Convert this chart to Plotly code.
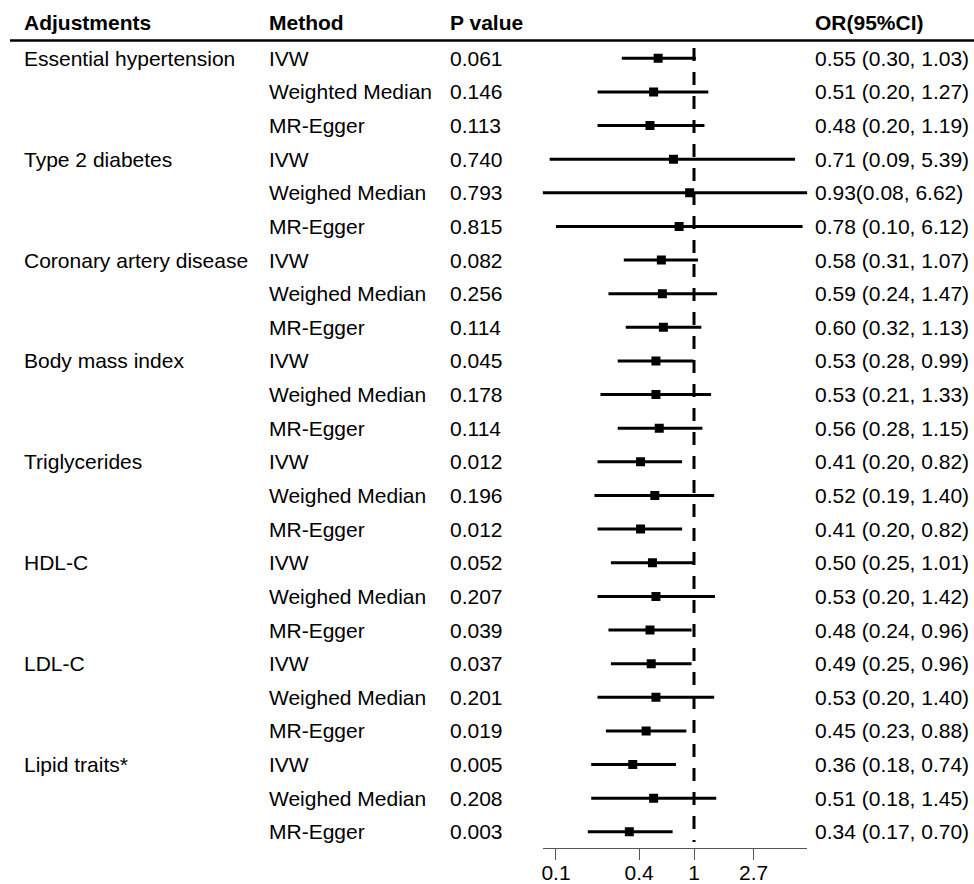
import math
import plotly.graph_objects as go

# ---------------- data ----------------
adjustments = ["Essential hypertension", "", "",
               "Type 2 diabetes", "", "",
               "Coronary artery disease", "", "",
               "Body mass index", "", "",
               "Triglycerides", "", "",
               "HDL-C", "", "",
               "LDL-C", "", "",
               "Lipid traits*", "", ""]
methods = ["IVW", "Weighted Median", "MR-Egger",
           "IVW", "Weighed Median", "MR-Egger",
           "IVW", "Weighed Median", "MR-Egger",
           "IVW", "Weighed Median", "MR-Egger",
           "IVW", "Weighed Median", "MR-Egger",
           "IVW", "Weighed Median", "MR-Egger",
           "IVW", "Weighed Median", "MR-Egger",
           "IVW", "Weighed Median", "MR-Egger"]
p_values = ["0.061", "0.146", "0.113",
            "0.740", "0.793", "0.815",
            "0.082", "0.256", "0.114",
            "0.045", "0.178", "0.114",
            "0.012", "0.196", "0.012",
            "0.052", "0.207", "0.039",
            "0.037", "0.201", "0.019",
            "0.005", "0.208", "0.003"]
or_vals = [0.55, 0.51, 0.48, 0.71, 0.93, 0.78, 0.58, 0.59, 0.60, 0.53, 0.53, 0.56,
           0.41, 0.52, 0.41, 0.50, 0.53, 0.48, 0.49, 0.53, 0.45, 0.36, 0.51, 0.34]
ci_low = [0.30, 0.20, 0.20, 0.09, 0.08, 0.10, 0.31, 0.24, 0.32, 0.28, 0.21, 0.28,
          0.20, 0.19, 0.20, 0.25, 0.20, 0.24, 0.25, 0.20, 0.23, 0.18, 0.18, 0.17]
ci_high = [1.03, 1.27, 1.19, 5.39, 6.62, 6.12, 1.07, 1.47, 1.13, 0.99, 1.33, 1.15,
           0.82, 1.40, 0.82, 1.01, 1.42, 0.96, 0.96, 1.40, 0.88, 0.74, 1.45, 0.70]
or_labels = ["0.55 (0.30, 1.03)", "0.51 (0.20, 1.27)", "0.48 (0.20, 1.19)",
             "0.71 (0.09, 5.39)", "0.93(0.08, 6.62)", "0.78 (0.10, 6.12)",
             "0.58 (0.31, 1.07)", "0.59 (0.24, 1.47)", "0.60 (0.32, 1.13)",
             "0.53 (0.28, 0.99)", "0.53 (0.21, 1.33)", "0.56 (0.28, 1.15)",
             "0.41 (0.20, 0.82)", "0.52 (0.19, 1.40)", "0.41 (0.20, 0.82)",
             "0.50 (0.25, 1.01)", "0.53 (0.20, 1.42)", "0.48 (0.24, 0.96)",
             "0.49 (0.25, 0.96)", "0.53 (0.20, 1.40)", "0.45 (0.23, 0.88)",
             "0.36 (0.18, 0.74)", "0.51 (0.18, 1.45)", "0.34 (0.17, 0.70)"]
headers = ["Adjustments", "Method", "P value", "OR(95%CI)"]
tick_vals = [0.1, 0.4, 1, 2.7]
tick_text = ["0.1", "0.4", "1", "2.7"]

# ---------------- layout constants ----------------
W, H = 974, 884
FONT = "Liberation Sans, Arial, sans-serif"
FS = 21
col_x_px = [22, 267, 448, 813]
row0_px, row_step_px = 58.3, 33.63
axis_px = 848.3
n = len(methods)
rows = list(range(n))


def px_to_row(py):
    return (py - row0_px) / row_step_px


fig = go.Figure()

# CI lines
lx, ly = [], []
for i in rows:
    lx += [ci_low[i], ci_high[i], None]
    ly += [i, i, None]
fig.add_trace(go.Scatter(x=lx, y=ly, mode="lines",
                         line=dict(color="black", width=3),
                         hoverinfo="skip", showlegend=False))
# point estimates
fig.add_trace(go.Scatter(x=or_vals, y=rows, mode="markers",
                         marker=dict(symbol="square", size=9, color="black"),
                         showlegend=False))

# reference dashed line at OR = 1
fig.add_shape(type="line", xref="x", yref="y", x0=1, x1=1,
              y0=px_to_row(48), y1=px_to_row(842),
              line=dict(color="black", width=3, dash="13px,11px"))
# header line
fig.add_shape(type="line", xref="paper", yref="y", x0=10 / W, x1=1,
              y0=px_to_row(40.5), y1=px_to_row(40.5),
              line=dict(color="black", width=2.5))

# header text
for h, cx in zip(headers, col_x_px):
    fig.add_annotation(x=cx / W, xref="paper", y=px_to_row(22), yref="y",
                       text="<b>%s</b>" % h, showarrow=False, xanchor="left",
                       yanchor="middle", font=dict(family=FONT, size=FS, color="black"))

# table text
cols = [adjustments, methods, p_values, or_labels]
for col, cx in zip(cols, col_x_px):
    for i, t in enumerate(col):
        if not t:
            continue
        fig.add_annotation(x=cx / W, xref="paper", y=i, yref="y", text=t,
                           showarrow=False, xanchor="left", yanchor="middle",
                           font=dict(family=FONT, size=FS, color="black"))

lo = math.log10(min(ci_low))
hi = math.log10(max(ci_high))
fig.update_layout(
    width=W, height=H, margin=dict(l=0, r=0, t=0, b=0, autoexpand=False),
    paper_bgcolor="white", plot_bgcolor="white",
    xaxis=dict(type="log", range=[lo, hi], domain=[542.6 / W, 807.3 / W],
               automargin=False, ticklabelstandoff=-6,
               tickvals=tick_vals, ticktext=tick_text, ticks="outside",
               ticklen=11, tickcolor="#555", tickwidth=1,
               showline=True, linecolor="#555", linewidth=1,
               showgrid=False, zeroline=False,
               tickfont=dict(family=FONT, size=FS, color="black")),
    yaxis=dict(range=[px_to_row(axis_px), px_to_row(0)],
               domain=[(H - axis_px) / H, 1], visible=False, automargin=False,
               showgrid=False, zeroline=False),
)

fig.write_html("out.html",
               config={"displayModeBar": False},
               post_script="document.body.style.margin='0';"
                           "document.body.style.overflow='hidden';")
